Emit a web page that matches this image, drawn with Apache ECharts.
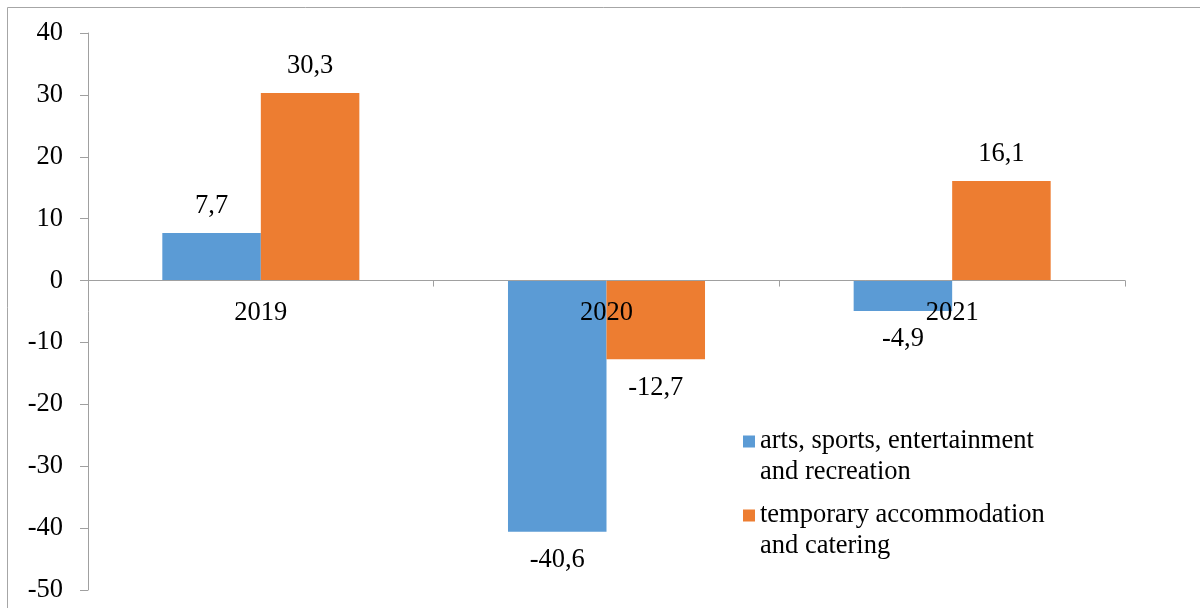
<!DOCTYPE html>
<html>
<head>
<meta charset="utf-8">
<script src="https://cdn.jsdelivr.net/npm/echarts@6/dist/echarts.min.js"></script>
<style>
  html, body { margin: 0; padding: 0; background: #fff; }
  #main { width: 1200px; height: 608px; }
</style>
</head>
<body>
<div id="main"></div>
<script>
var years = ['2019', '2020', '2021'];
var artsValues = [7.7, -40.6, -4.9];
var accomValues = [30.3, -12.7, 16.1];
var seriesNames = ['arts, sports, entertainment\nand recreation', 'temporary accommodation\nand catering'];
var yMin = -50, yMax = 40;

var font = '"Times New Roman", "Liberation Serif", serif';
var fs = 26.5;

var gridTop = 33, gridBottom = 18;
var plotH = 608 - gridTop - gridBottom;
// move the category axis up to the zero line (labels too)
var zeroOffset = -plotH * (0 - yMin) / (yMax - yMin);

// put the label under the bar when the value is negative
function toItems(arr) {
  return arr.map(function (v) {
    return { value: v, label: { position: v < 0 ? 'bottom' : 'top', distance: v < 0 ? 15 : 13 } };
  });
}
function fmt(p) { return String(p.value).replace('.', ','); }

var chart = echarts.init(document.getElementById('main'));
var option = {
  animation: false,
  grid: { left: 88, right: 75, top: gridTop, bottom: gridBottom, outerBoundsMode: 'none', containLabel: false },
  graphic: [{
    type: 'polyline',
    shape: { points: [[7.5, 608], [7.5, 7.5], [1200, 7.5]] },
    style: { stroke: '#a6a6a6', fill: null, lineWidth: 1 }
  }],
  legend: {
    orient: 'vertical',
    left: 743,
    top: 395,
    padding: 0,
    itemWidth: 12,
    itemHeight: 12,
    itemGap: -19,
    itemStyle: { borderWidth: 0 },
    icon: 'rect',
    formatter: function (name) { return '\n' + name; },
    textStyle: {
      fontFamily: font,
      fontSize: fs,
      color: '#000',
      lineHeight: 31
    },
    data: seriesNames
  },
  xAxis: {
    type: 'category',
    data: years,
    z: 10,
    offset: zeroOffset,
    axisLine: { onZero: false, lineStyle: { color: '#a0a0a0', width: 1 } },
    axisTick: { show: true, length: 6, lineStyle: { color: '#a0a0a0' } },
    axisLabel: { fontFamily: font, fontSize: fs, color: '#000', margin: 19 },
    splitLine: { show: false }
  },
  yAxis: {
    type: 'value',
    min: yMin,
    max: yMax,
    interval: 10,
    axisLine: { show: true, lineStyle: { color: '#a0a0a0', width: 1 } },
    axisTick: { show: true, inside: false, length: 8, lineStyle: { color: '#a0a0a0' } },
    axisLabel: { fontFamily: font, fontSize: fs, color: '#000', margin: 25 },
    splitLine: { show: false }
  },
  series: [
    {
      name: seriesNames[0],
      type: 'bar',
      data: toItems(artsValues),
      itemStyle: { color: '#5b9bd5' },
      barGap: '0%',
      barCategoryGap: '43%',
      label: { show: true, fontFamily: font, fontSize: fs, color: '#000', formatter: fmt }
    },
    {
      name: seriesNames[1],
      type: 'bar',
      data: toItems(accomValues),
      itemStyle: { color: '#ed7d31' },
      barGap: '0%',
      barCategoryGap: '43%',
      label: { show: true, fontFamily: font, fontSize: fs, color: '#000', formatter: fmt }
    }
  ]
};
chart.setOption(option);
</script>
</body>
</html>
